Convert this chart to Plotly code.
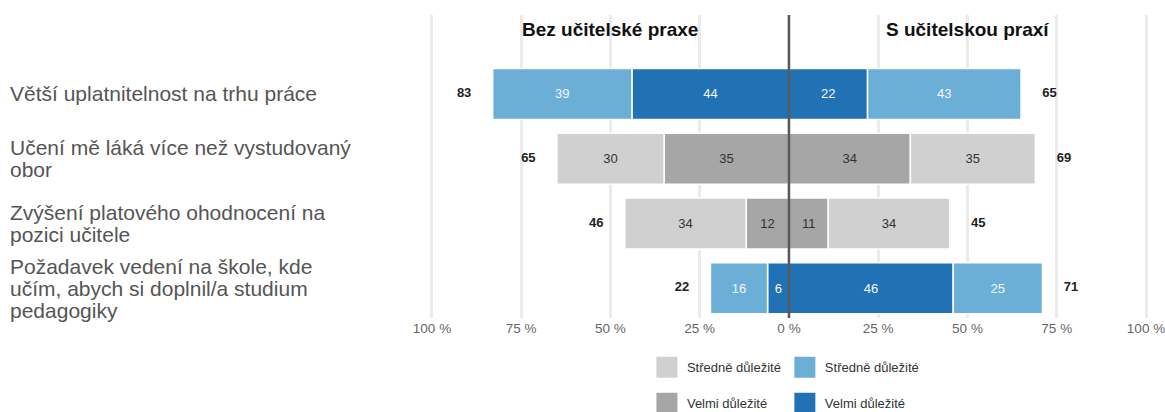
import plotly.graph_objects as go

# data
kategorie = [
    "Větší uplatnitelnost na trhu práce",
    "Učení mě láká více než vystudovaný<br>obor",
    "Zvýšení platového ohodnocení na<br>pozici učitele",
    "Požadavek vedení na škole, kde<br>učím, abych si doplnil/a studium<br>pedagogiky",
]
bez_velmi = [44, 35, 12, 6]
bez_stredne = [39, 30, 34, 16]
s_velmi = [22, 34, 11, 46]
s_stredne = [43, 35, 34, 25]
bez_celkem = [83, 65, 46, 22]
s_celkem = [65, 69, 45, 71]
zvyraznit = [True, False, False, True]

tick_vals = [-100, -75, -50, -25, 0, 25, 50, 75, 100]
tick_text = ["100 %", "75 %", "50 %", "25 %", "0 %", "25 %", "50 %", "75 %", "100 %"]

# barvy
SEDA_STR = "#d0d0d0"
SEDA_VEL = "#a6a6a6"
MODRA_STR = "#6baed6"
MODRA_VEL = "#2171b5"
FONT = "Liberation Sans, Arial, sans-serif"


def barvy(stredne):
    if stredne:
        return [MODRA_STR if z else SEDA_STR for z in zvyraznit]
    return [MODRA_VEL if z else SEDA_VEL for z in zvyraznit]


def barvy_textu():
    return ["#f4f8fb" if z else "#333333" for z in zvyraznit]


fig = go.Figure()

# levá strana (bez praxe) - záporné hodnoty, tmavá část u středu
for hodnoty, stredne in [(bez_velmi, False), (bez_stredne, True)]:
    fig.add_trace(go.Bar(
        y=kategorie, x=[-v for v in hodnoty], orientation="h",
        marker=dict(color=barvy(stredne), line=dict(color="white", width=1.5)),
        text=[str(v) for v in hodnoty], textposition="inside", insidetextanchor="middle",
        textfont=dict(size=13, color=barvy_textu(), family=FONT),
        width=0.79, showlegend=False, hoverinfo="skip",
    ))

# pravá strana (s praxí)
for hodnoty, stredne in [(s_velmi, False), (s_stredne, True)]:
    fig.add_trace(go.Bar(
        y=kategorie, x=hodnoty, orientation="h",
        marker=dict(color=barvy(stredne), line=dict(color="white", width=1.5)),
        text=[str(v) for v in hodnoty], textposition="inside", insidetextanchor="middle",
        textfont=dict(size=13, color=barvy_textu(), family=FONT),
        width=0.79, showlegend=False, hoverinfo="skip",
    ))

# součty
fig.add_trace(go.Scatter(
    y=kategorie, x=[-(v + 8) for v in bez_celkem], mode="text",
    text=[f"<b>{v}</b>" for v in bez_celkem],
    textfont=dict(size=13, color="#222222", family=FONT),
    showlegend=False, hoverinfo="skip",
))
fig.add_trace(go.Scatter(
    y=kategorie, x=[v + 8 for v in s_celkem], mode="text",
    text=[f"<b>{v}</b>" for v in s_celkem],
    textfont=dict(size=13, color="#222222", family=FONT),
    showlegend=False, hoverinfo="skip",
))

# legenda - dvě kolonky
for nazev, barva, leg in [("Středně důležité", SEDA_STR, "legend"),
                          ("Velmi důležité", SEDA_VEL, "legend"),
                          ("Středně důležité", MODRA_STR, "legend2"),
                          ("Velmi důležité", MODRA_VEL, "legend2")]:
    fig.add_trace(go.Scatter(
        x=[None], y=[None], mode="markers", name=nazev, legend=leg,
        legendgroup=nazev + barva,
        marker=dict(symbol="square", size=16, color=barva, line=dict(color=barva, width=9)),
    ))

# popisky kategorií vlevo (řádky s těsnějším řádkováním)
for k in kategorie:
    radky = k.split("<br>")
    n = len(radky)
    for i, r in enumerate(radky):
        fig.add_annotation(
            x=0.007, xref="paper", y=k, yref="y", text=r, showarrow=False,
            xanchor="left", align="left", yshift=((n - 1) / 2 - i) * 22,
            font=dict(size=21, color="#555555", family=FONT),
        )

# nadpisy stran
fig.add_annotation(x=-50, y=-1.0, xref="x", yref="y", text="<b>Bez učitelské praxe</b>",
                   showarrow=False, font=dict(size=19, color="#111111", family=FONT))
fig.add_annotation(x=50, y=-1.0, xref="x", yref="y", text="<b>S učitelskou praxí</b>",
                   showarrow=False, font=dict(size=19, color="#111111", family=FONT))

# středová čára
fig.add_shape(type="line", x0=0, x1=0, xref="x", y0=0, y1=1, yref="paper",
              line=dict(color="#5a5a5a", width=2.5), layer="above")

legenda = dict(
    orientation="v", yanchor="top", xanchor="left", y=-0.1134,
    font=dict(size=13, color="#333333", family=FONT),
    tracegroupgap=16, bgcolor="rgba(0,0,0,0)",
)

# osa x: 1 % = 3.57 px, rozsah o kousek širší, aby byly vidět krajní mřížky
fig.update_layout(
    width=1165, height=412,
    margin=dict(l=0, r=0, t=15, b=94, autoexpand=False),
    plot_bgcolor="white", paper_bgcolor="white",
    barmode="relative", bargap=0.2,
    font=dict(family=FONT),
    xaxis=dict(
        domain=[(432 - 5.355) / 1165, (1146 + 5.355) / 1165], range=[-101.5, 101.5],
        tickvals=tick_vals, ticktext=tick_text, ticklabeloverflow="allow",
        showgrid=True, gridcolor="#ebebeb", gridwidth=2.5, zeroline=False,
        tickfont=dict(size=13.5, color="#666666", family=FONT), ticks="",
    ),
    yaxis=dict(
        type="category", categoryorder="array", categoryarray=kategorie,
        range=[3.46, -1.22], showticklabels=False, showgrid=False, zeroline=False,
    ),
    legend=dict(legenda, x=0.5553),
    legend2=dict(legenda, x=0.6737),
)

fig.write_html("out.html", config={"displayModeBar": False},
               post_script="document.body.style.margin='0';")
